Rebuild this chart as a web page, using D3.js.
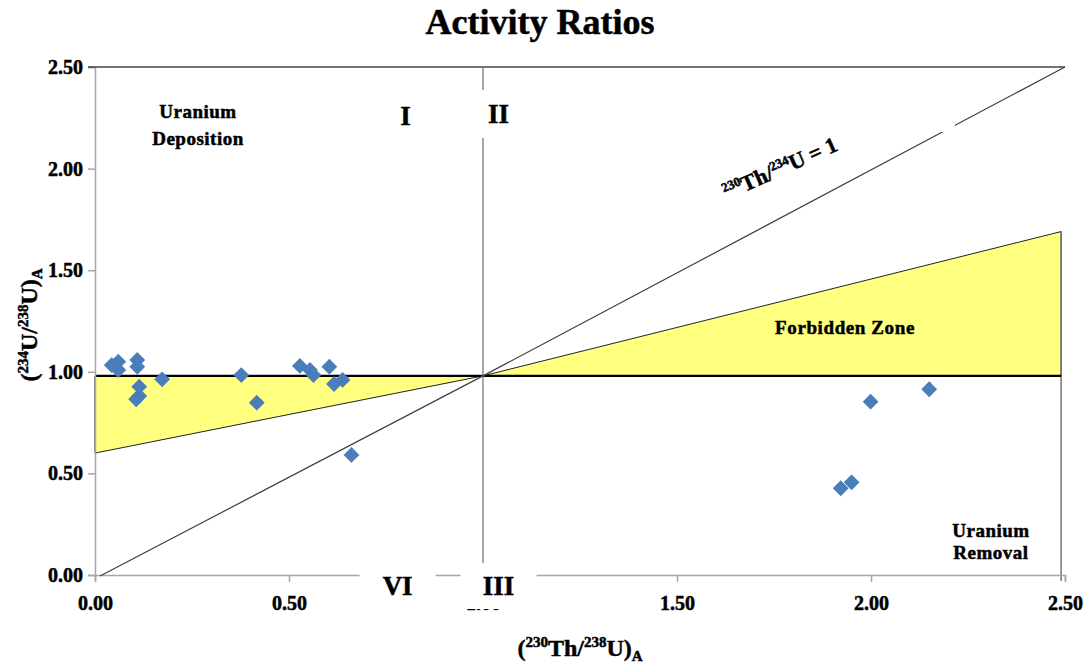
<!DOCTYPE html>
<html>
<head>
<meta charset="utf-8">
<script src="https://cdn.jsdelivr.net/npm/d3@7"></script>
<style>
  html, body { margin: 0; padding: 0; background: #fff; }
  svg { display: block; }
  text { font-family: "Liberation Serif", "Times New Roman", serif; font-weight: bold; fill: #000; }
  .heavy { stroke: #000; stroke-width: 0.5px; }
</style>
</head>
<body>
<svg id="chart" width="1092" height="666"></svg>
<script>
// Sample activity ratios: (230Th/238U) on x, (234U/238U) on y
const thU238 = [0.043, 0.060, 0.060, 0.109, 0.109, 0.114, 0.106, 0.114, 0.173, 0.377, 0.417,
                0.528, 0.554, 0.563, 0.604, 0.616, 0.638, 0.661, 1.999, 2.150, 1.922, 1.950];
const u234U238 = [1.033, 1.050, 1.009, 1.058, 1.025, 0.927, 0.865, 0.881, 0.963, 0.984, 0.848,
                  1.029, 1.009, 0.984, 1.025, 0.940, 0.960, 0.591, 0.853, 0.914, 0.427, 0.456];

// Axis ticks
const xTicks = [0, 0.5, 1.0, 1.5, 2.0, 2.5];
const yTicks = [0, 0.5, 1.0, 1.5, 2.0, 2.5];

// Reference geometry of the diagram
const equilibriumLine = [[0.013, -0.005], [1.0, 0.98], [2.5, 2.5]];   // 230Th/234U = 1
const forbiddenLeft = [[0, 0.98], [1.0, 0.98], [0, 0.60]];
const forbiddenRight = [[1.0, 0.98], [2.49, 1.69], [2.49, 0.98]];
const secularU = 0.98;

const svg = d3.select("#chart");
const x = d3.scaleLinear().domain([0, 2.5]).range([95, 1065]);
const y = d3.scaleLinear().domain([0, 2.5]).range([575, 67]);
const line = d3.line().x(d => x(d[0])).y(d => y(d[1]));

// Title
svg.append("text").attr("x", 540).attr("y", 34).attr("text-anchor", "middle")
  .attr("class", "heavy").style("font-size", "36px").text("Activity Ratios");

// Forbidden zone wedges
[forbiddenLeft, forbiddenRight].forEach(p => {
  svg.append("path").attr("d", line(p) + "Z")
    .attr("fill", "#ffff80").attr("stroke", "#222").attr("stroke-width", 1);
});

// Right boundary at x = 2.49 continuing down past the axis
svg.append("line")
  .attr("x1", x(2.49)).attr("x2", x(2.49)).attr("y1", y(1.69)).attr("y2", y(-0.03))
  .attr("stroke", "#777").attr("stroke-width", 1.5);

// Secular equilibrium line for uranium
svg.append("line")
  .attr("x1", x(0)).attr("x2", x(2.49)).attr("y1", y(secularU)).attr("y2", y(secularU))
  .attr("stroke", "#000").attr("stroke-width", 2.2);

// Axes
const xAxis = svg.append("g").attr("transform", `translate(0,${y(0)})`)
  .call(d3.axisBottom(x).tickValues(xTicks).tickFormat(d3.format(".2f")).tickSize(7).tickPadding(14));
const yAxis = svg.append("g").attr("transform", `translate(${x(0)},0)`)
  .call(d3.axisLeft(y).tickValues(yTicks).tickFormat(d3.format(".2f")).tickSize(7).tickPadding(5));
[xAxis, yAxis].forEach(g => {
  g.select(".domain").attr("stroke", "#a6a6a6").attr("stroke-width", 1.5);
  g.selectAll(".tick line").attr("stroke", "#a6a6a6").attr("stroke-width", 1.5);
  g.selectAll(".tick text").attr("class", "heavy").style("font-size", "20px")
    .style("font-family", "Liberation Serif, serif").style("font-weight", "bold").attr("fill", "#000");
});

// Top border
svg.append("line")
  .attr("x1", x(0) - 7).attr("x2", x(2.5)).attr("y1", y(2.5)).attr("y2", y(2.5))
  .attr("stroke", "#444").attr("stroke-width", 1.5);

// Vertical divider at (230Th/238U) = 1
svg.append("line")
  .attr("x1", x(1)).attr("x2", x(1)).attr("y1", y(2.5)).attr("y2", y(0))
  .attr("stroke", "#888").attr("stroke-width", 1.5);

// 230Th/234U = 1 line
svg.append("path").attr("d", line(equilibriumLine))
  .attr("fill", "none").attr("stroke", "#404040").attr("stroke-width", 1.2);

// Data points (diamonds)
svg.append("g").selectAll("path").data(thU238.map((v, i) => [v, u234U238[i]]))
  .join("path")
  .attr("d", d3.symbol().type(d3.symbolSquare).size(125))
  .attr("transform", d => `translate(${x(d[0])},${y(d[1])}) rotate(45)`)
  .attr("fill", "#4a7ebb");

// Quadrant labels with white boxes
function boxLabel(cx, cy, w, h, txt) {
  svg.append("rect").attr("x", cx - w / 2).attr("y", cy - h / 2).attr("width", w).attr("height", h)
    .attr("fill", "#fff");
  svg.append("text").attr("x", cx).attr("y", cy + 9).attr("text-anchor", "middle")
    .attr("class", "heavy").style("font-size", "27px").text(txt);
}
boxLabel(x(0.8), 116, 60, 46, "I");
boxLabel(x(1.04), 114, 56, 48, "II");
boxLabel(x(0.78), 586, 76, 46, "VI");
boxLabel(x(1.04), 586, 76, 46, "III");

// Region labels
function twoLine(cx, cy, a, b, size, gap) {
  const t = svg.append("text").attr("text-anchor", "middle").attr("class", "heavy")
    .style("font-size", size + "px").style("letter-spacing", "0.5px");
  t.append("tspan").attr("x", cx).attr("y", cy).text(a);
  t.append("tspan").attr("x", cx).attr("y", cy + gap).text(b);
}
twoLine(198, 118, "Uranium", "Deposition", 19, 27);
twoLine(991, 537, "Uranium", "Removal", 19, 22);
svg.append("text").attr("x", 845).attr("y", 334).attr("text-anchor", "middle").attr("class", "heavy")
  .style("font-size", "19px").style("letter-spacing", "0.6px").text("Forbidden Zone");

// Small break in the diagonal line
svg.append("rect").attr("x", x(2.18)).attr("y", y(2.21) - 8).attr("width", 14).attr("height", 14)
  .attr("fill", "#fff");

// Label for 230Th/234U = 1
const eq = svg.append("text").attr("transform", "translate(783,175) rotate(-24)")
  .attr("text-anchor", "middle").attr("class", "heavy").style("font-size", "22px");
eq.append("tspan").style("font-size", "13px").attr("dy", -8).text("230");
eq.append("tspan").attr("dy", 8).text("Th/");
eq.append("tspan").style("font-size", "13px").attr("dy", -8).text("234");
eq.append("tspan").attr("dy", 8).text("U = 1");

// Axis titles
const xt = svg.append("text").attr("x", 580).attr("y", 656).attr("text-anchor", "middle")
  .attr("class", "heavy").style("font-size", "24px");
xt.append("tspan").text("(");
xt.append("tspan").style("font-size", "15px").attr("dy", -9).text("230");
xt.append("tspan").attr("dy", 9).text("Th/");
xt.append("tspan").style("font-size", "15px").attr("dy", -9).text("238");
xt.append("tspan").attr("dy", 9).text("U)");
xt.append("tspan").style("font-size", "15px").attr("dy", 5).text("A");

const yt = svg.append("text").attr("transform", "translate(37,325) rotate(-90)")
  .attr("text-anchor", "middle").attr("class", "heavy").style("font-size", "24px");
yt.append("tspan").text("(");
yt.append("tspan").style("font-size", "15px").attr("dy", -9).text("234");
yt.append("tspan").attr("dy", 9).text("U/");
yt.append("tspan").style("font-size", "15px").attr("dy", -9).text("238");
yt.append("tspan").attr("dy", 9).text("U)");
yt.append("tspan").style("font-size", "15px").attr("dy", 5).text("A");
</script>
</body>
</html>
